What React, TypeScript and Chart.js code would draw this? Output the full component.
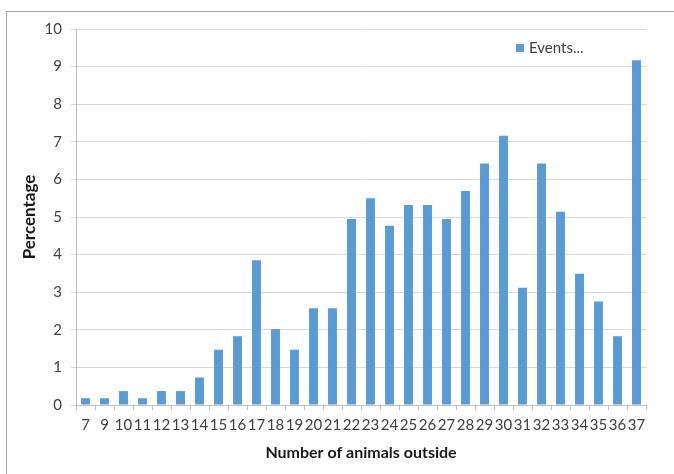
import React, { useEffect, useRef } from "react";
import { Chart, registerables } from "chart.js";

Chart.register(...registerables);

const categories = [
  "7", "9", "10", "11", "12", "13", "14", "15", "16", "17",
  "18", "19", "20", "21", "22", "23", "24", "25", "26", "27",
  "28", "29", "30", "31", "32", "33", "34", "35", "36", "37",
];

const eventValues = [
  0.18, 0.18, 0.37, 0.18, 0.37, 0.37, 0.73, 1.47, 1.83, 3.85,
  2.02, 1.47, 2.57, 2.57, 4.95, 5.5, 4.77, 5.32, 5.32, 4.95,
  5.69, 6.42, 7.16, 3.12, 6.42, 5.14, 3.49, 2.75, 1.83, 9.17,
];

const seriesLabel = "Events...";
const yTitle = "Percentage";
const xTitle = "Number of animals outside";

const FONT = "Lato, 'Liberation Sans', sans-serif";
const BAR_COLOR = "#5b9bd5";

const insideLegend = {
  id: "insideLegend",
  afterDraw(chart: any) {
    const { ctx, chartArea } = chart;
    const ds = chart.data.datasets[0];
    const x = chartArea.right - 130;
    const y = chartArea.top + 19;
    ctx.save();
    ctx.fillStyle = ds.backgroundColor;
    ctx.fillRect(x, y - 4, 8, 8);
    ctx.font = `15px ${FONT}`;
    ctx.fillStyle = "#404040";
    ctx.textBaseline = "middle";
    ctx.textAlign = "left";
    ctx.fillText(ds.label, x + 13, y);
    ctx.restore();
  },
};

export default function App() {
  const canvasRef = useRef<HTMLCanvasElement | null>(null);

  useEffect(() => {
    if (!canvasRef.current) return;
    const chart = new Chart(canvasRef.current, {
      type: "bar",
      data: {
        labels: categories,
        datasets: [
          {
            label: seriesLabel,
            data: eventValues,
            backgroundColor: BAR_COLOR,
            borderWidth: 0,
            barPercentage: 0.47,
            categoryPercentage: 1,
          },
        ],
      },
      options: {
        responsive: false,
        animation: false,
        devicePixelRatio: 1,
        layout: { padding: { top: 29, right: 28, left: 0, bottom: 0 } },
        plugins: {
          legend: { display: false },
          tooltip: { enabled: false },
        },
        scales: {
          x: {
            type: "category",
            offset: true,
            grid: {
              offset: true,
              drawOnChartArea: false,
              drawTicks: true,
              tickLength: 5,
              color: "#bfbfbf",
            },
            border: { color: "#bfbfbf" },
            ticks: {
              autoSkip: false,
              maxRotation: 0,
              minRotation: 0,
              padding: 6,
              color: "#404040",
              font: { family: FONT, size: 15 },
            },
            title: {
              display: true,
              text: xTitle,
              color: "#1a1a1a",
              font: { family: FONT, size: 16, weight: "bold" },
              padding: { top: 0, bottom: 12 },
            },
            afterFit: (s: any) => {
              s.height = 69;
            },
          },
          y: {
            min: 0,
            max: 10,
            ticks: {
              stepSize: 1,
              padding: 9,
              color: "#404040",
              font: { family: FONT, size: 15 },
            },
            grid: {
              color: "#d9d9d9",
              tickLength: 5,
            },
            border: { color: "#bfbfbf" },
            title: {
              display: true,
              text: yTitle,
              color: "#1a1a1a",
              font: { family: FONT, size: 17, weight: "bold" },
              padding: { top: 19, bottom: 0 },
            },
            afterFit: (s: any) => {
              s.width = 76;
            },
          },
        },
      },
      plugins: [insideLegend],
    });
    return () => chart.destroy();
  }, []);

  return (
    <div
      style={{
        position: "fixed",
        left: 0,
        top: 0,
        width: 674,
        height: 474,
        overflow: "hidden",
        background: "#ffffff",
      }}
    >
      <div
        style={{
          position: "absolute",
          left: 6,
          top: 11,
          width: 720,
          height: 520,
          border: "1px solid #a6a6a6",
        }}
      />
      <canvas
        ref={canvasRef}
        width={674}
        height={474}
        style={{ position: "absolute", left: 0, top: 0, width: 674, height: 474 }}
      />
    </div>
  );
}
